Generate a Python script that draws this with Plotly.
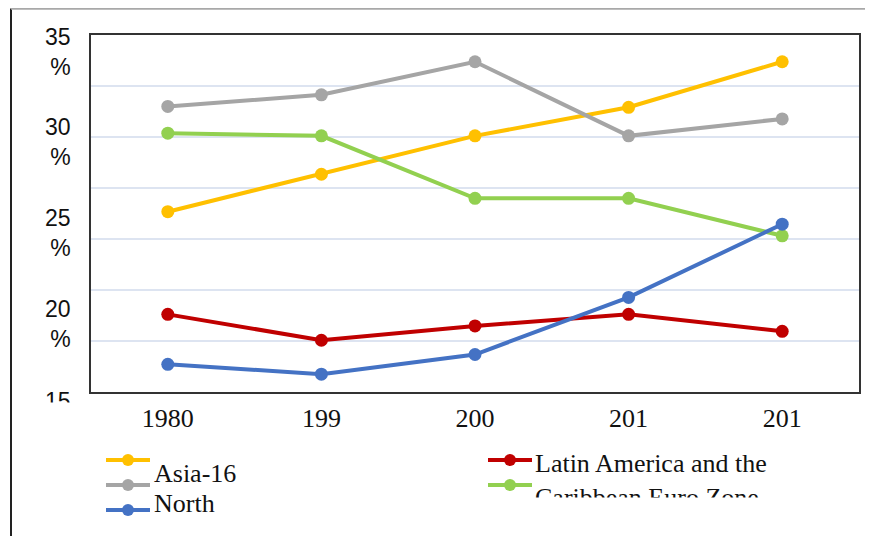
import plotly.graph_objects as go

# ---- data ----
x_labels = ["1980", "199", "200", "201", "201"]
asia16 = [25.1, 27.2, 29.35, 30.95, 33.5]
latam = [19.35, 17.9, 18.7, 19.35, 18.4]
gray_series = [31.0, 31.65, 33.5, 29.35, 30.3]
euro_zone = [29.5, 29.35, 25.85, 25.85, 23.75]
north = [16.55, 16.0, 17.1, 20.3, 24.4]

y_tick_labels = ["35<br>%", "30<br>%", "25<br>%", "20<br>%", "15"]
legend_left = ["Asia-16", "North"]
legend_right = ["Latin America and the", "Caribbean Euro Zone"]

colors = {
    "yellow": "#FFC000",
    "red": "#C00000",
    "gray": "#A5A5A5",
    "green": "#92D050",
    "blue": "#4472C4",
}

# page has an 8px body margin: the figure is drawn 8px in from the top-left
OFF = 8
SW, SH = 873, 536               # screen size
W, H = SW - OFF, SH - OFF       # figure size
L, R, T, B = 91, 859, 35, 392   # plot area in screen pixels


def px(xs):
    return (xs - L) / (R - L)


def py(ys):
    return (B - ys) / (B - T)


xs = list(range(len(x_labels)))
fig = go.Figure()
series = [
    ("Asia-16", asia16, colors["yellow"]),
    ("Latin America and the Caribbean", latam, colors["red"]),
    ("Series 3", gray_series, colors["gray"]),
    ("Euro Zone", euro_zone, colors["green"]),
    ("North", north, colors["blue"]),
]
for name, vals, c in series:
    fig.add_trace(go.Scatter(
        x=xs, y=vals, name=name, mode="lines+markers",
        line=dict(color=c, width=4),
        marker=dict(color=c, size=13),
        showlegend=False,
    ))

ymin, ymax = 15, 35
grid_vals = [ymin + (ymax - ymin) * k / 7 for k in range(1, 7)]

fig.update_xaxes(
    range=[-0.5, len(x_labels) - 0.5],
    tickvals=xs, ticktext=x_labels,
    showgrid=False, zeroline=False,
    showline=True, linecolor="#333333", linewidth=1.8, mirror=True,
    tickfont=dict(family="Liberation Serif", size=26, color="#111111"),
    ticks="", ticklabelstandoff=2,
)
fig.update_yaxes(
    range=[ymin, ymax],
    tickvals=grid_vals, showticklabels=False,
    showgrid=True, gridcolor="#DDE4F1", gridwidth=1.5,
    zeroline=False,
    showline=True, linecolor="#333333", linewidth=1.8, mirror=True,
    ticks="",
)

shapes = []
annotations = []

# outer frame (left dark, top gray)
shapes.append(dict(type="line", xref="paper", yref="paper",
                   x0=px(11), x1=px(11), y0=py(OFF + 0.5), y1=py(SH + 5),
                   line=dict(color="#222222", width=2)))
shapes.append(dict(type="line", xref="paper", yref="paper",
                   x0=px(11), x1=px(SW + 5), y0=py(OFF + 0.8), y1=py(OFF + 0.8),
                   line=dict(color="#A8A8A8", width=2)))

# y tick labels (positions as in the reference)
label_centers = [52, 142, 233, 324, 401]
for txt, yc in zip(y_tick_labels, label_centers):
    annotations.append(dict(
        xref="paper", yref="paper", x=px(73), y=py(yc),
        xanchor="right", yanchor="middle", align="right",
        text=txt, showarrow=False,
        font=dict(family="Liberation Sans", size=23, color="#111111"),
    ))

# legend symbols
def legend_symbol(x0, x1, yc, c):
    shapes.append(dict(type="line", xref="paper", yref="paper",
                       x0=px(x0), x1=px(x1), y0=py(yc), y1=py(yc),
                       line=dict(color=c, width=4)))
    xm = (x0 + x1) / 2
    shapes.append(dict(type="circle", xref="paper", yref="paper",
                       x0=px(xm - 6), x1=px(xm + 6),
                       y0=py(yc + 6), y1=py(yc - 6),
                       fillcolor=c, line=dict(color=c, width=0)))


legend_symbol(106, 150, 460, colors["yellow"])
legend_symbol(106, 150, 485, colors["gray"])
legend_symbol(106, 150, 510, colors["blue"])
legend_symbol(488, 532, 460, colors["red"])
legend_symbol(488, 532, 485, colors["green"])

lfont = dict(family="Liberation Serif", size=26, color="#111111")
for txt, yc in zip(legend_left, [473, 503]):
    annotations.append(dict(xref="paper", yref="paper", x=px(152), y=py(yc),
                            xanchor="left", yanchor="middle", text=txt,
                            showarrow=False, font=lfont))
for txt, yc in zip(legend_right, [463, 497]):
    annotations.append(dict(xref="paper", yref="paper", x=px(533), y=py(yc),
                            xanchor="left", yanchor="middle", text=txt,
                            showarrow=False, font=lfont))

# white covers that clip the cut-off texts as in the reference
annotations.append(dict(xref="paper", yref="paper", x=px(530), y=py(497),
                        xanchor="left", yanchor="top", text=" ",
                        width=300, height=26, bgcolor="white",
                        showarrow=False))
annotations.append(dict(xref="paper", yref="paper", x=px(30), y=py(402),
                        xanchor="left", yanchor="top", text=" ",
                        width=55, height=18, bgcolor="white",
                        showarrow=False))

fig.update_layout(
    width=W, height=H,
    margin=dict(l=L - OFF, r=SW - R, t=T - OFF, b=SH - B),
    paper_bgcolor="white", plot_bgcolor="white",
    shapes=shapes, annotations=annotations,
    showlegend=False,
)

fig.write_html("out.html")
